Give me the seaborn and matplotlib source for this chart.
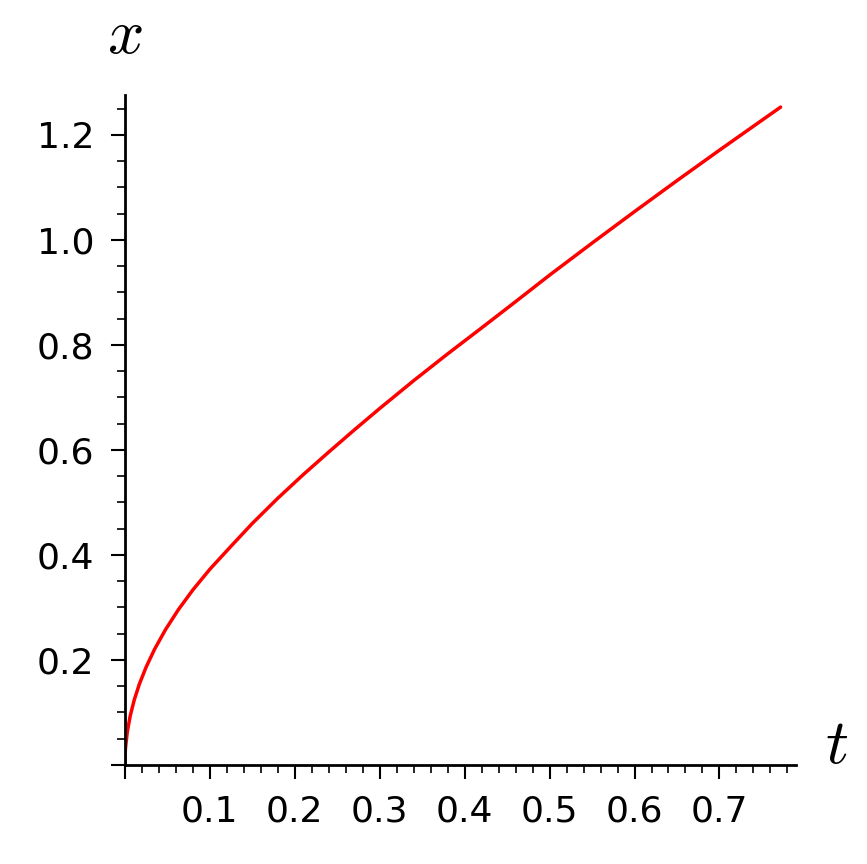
import numpy as np
import pandas as pd
import seaborn as sns
import matplotlib
matplotlib.use("Agg")
import matplotlib.pyplot as plt
from matplotlib.ticker import MultipleLocator, FuncFormatter

# values
t_vals = [0.0, 0.00005, 0.0002, 0.0007, 0.0028, 0.0063, 0.011, 0.017, 0.025, 0.035,
          0.048, 0.063, 0.08, 0.10, 0.125, 0.15, 0.18, 0.21, 0.24, 0.27,
          0.30, 0.34, 0.38, 0.42, 0.46, 0.50, 0.55, 0.60, 0.65, 0.70,
          0.75, 0.772]
x_vals = [0.0, 0.0083, 0.0167, 0.0312, 0.0624, 0.0935, 0.1236, 0.1537, 0.1863, 0.2205,
          0.2582, 0.2958, 0.3333, 0.3727, 0.4167, 0.46, 0.508, 0.553, 0.596, 0.638,
          0.679, 0.732, 0.783, 0.8325, 0.8825, 0.933, 0.994, 1.054, 1.113, 1.171,
          1.228, 1.253]

df = pd.DataFrame({"t": t_vals, "x": x_vals})

sns.set_style("white")
plt.rcParams["font.family"] = ["DejaVu Sans"]
plt.rcParams["mathtext.fontset"] = "cm"
plt.rcParams["text.color"] = "black"

fig = plt.figure(figsize=(8.67, 8.64), dpi=100)
ax = fig.add_axes([0.144, 0.1146, 0.774, 0.7754])

sns.lineplot(data=df, x="t", y="x", color="red", linewidth=2.5, ax=ax, sort=False)

ax.set_xlim(0, 0.79)
ax.set_ylim(0, 1.276)
ax.set_xlabel("")
ax.set_ylabel("")

for s in ["top", "right"]:
    ax.spines[s].set_visible(False)
for s in ["left", "bottom"]:
    ax.spines[s].set_linewidth(2.0)
    ax.spines[s].set_color("black")

ax.xaxis.set_major_locator(MultipleLocator(0.1))
ax.xaxis.set_minor_locator(MultipleLocator(0.02))
ax.yaxis.set_major_locator(MultipleLocator(0.2))
ax.yaxis.set_minor_locator(MultipleLocator(0.05))

hide0 = FuncFormatter(lambda v, p: "" if abs(v) < 1e-9 else f"{v:.1f}")
ax.xaxis.set_major_formatter(hide0)
ax.yaxis.set_major_formatter(hide0)

ax.tick_params(which="major", length=10, width=1.5, labelsize=26, color="black",
               labelcolor="black", bottom=True, left=True, direction="out")
ax.tick_params(which="minor", length=5.5, width=1.2, color="black",
               bottom=True, left=True, direction="out")
ax.tick_params(axis="x", pad=11)
ax.tick_params(axis="y", pad=12)

# axis names, sage style
fig.text(125 / 867, 1 - 35 / 864, "$x$", fontsize=46, ha="center", va="center", color="black")
fig.text(837 / 867, 1 - 745 / 864, "$t$", fontsize=46, ha="center", va="center", color="black")

fig.savefig("out.png", dpi=100)
